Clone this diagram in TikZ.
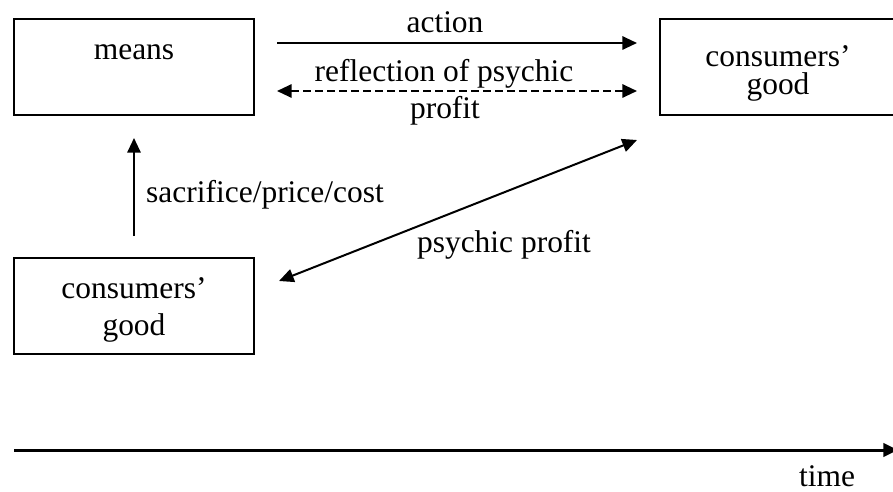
\documentclass[tikz,border=0pt]{standalone}
\usepackage{fontspec}
\setmainfont{Liberation Serif}
\usetikzlibrary{arrows.meta,positioning,calc}

\begin{document}
\begin{tikzpicture}[x=0.75pt, y=-0.75pt,
  box/.style={draw=black, line width=1.5pt, minimum width=180pt, minimum height=72pt, inner sep=0pt},
  word/.style={anchor=base, inner sep=0pt, align=center, font=\fontsize{23.6}{21}\selectfont},
  link/.style={line width=1.5pt, -{Triangle[length=11pt,width=10pt]}},
  twolink/.style={line width=1.5pt, {Triangle[length=11pt,width=10pt]}-{Triangle[length=11pt,width=10pt]}}]
  \clip (0,0) rectangle (893,492);

  % boxes
  \node (means) [box] at (134,67) {};
  \node (goodB) [box] at (780,67) {};
  \node (goodA) [box] at (134,306) {};

  \node (meanstext) [word] at (134,60) {means};
  \node (goodBtext) [word] at (778,95) {consumers'\\good};
  \node (goodAtext) [word, font=\fontsize{23.6}{27.75}\selectfont] at (134,335) {consumers'\\good};

  % arrow ends
  \coordinate (act0) at (277,43);
  \coordinate (act1) at (637,43);
  \coordinate (refl0) at (277,91);
  \coordinate (refl1) at (637,91);
  \coordinate (sac0) at (134,236);
  \coordinate (sac1) at (134,138);
  \coordinate (psy0) at (279,281);
  \coordinate (psy1) at (637,140);
  \coordinate (time0) at (14,450);
  \coordinate (time1) at (898,450);

  \draw [link] (act0) -- (act1);
  \draw [twolink, dash pattern=on 6pt off 3pt] (refl0) -- (refl1);
  \draw [link] (sac0) -- (sac1);
  \draw [twolink] (psy0) -- (psy1);
  \draw [link, line width=2.25pt] (time0) -- (time1);

  % labels
  \node (action) [word] at (445,33) {action};
  \node (reflection) [word] at (444,82) {reflection of psychic};
  \node (profit) [word] at (445,118) {profit};
  \node (sacrifice) [word] at (265,202) {sacrifice/price/cost};
  \node (psychic) [word] at (504,252) {psychic profit};
  \node (time) [word] at (827,486) {time};
\end{tikzpicture}
\end{document}
